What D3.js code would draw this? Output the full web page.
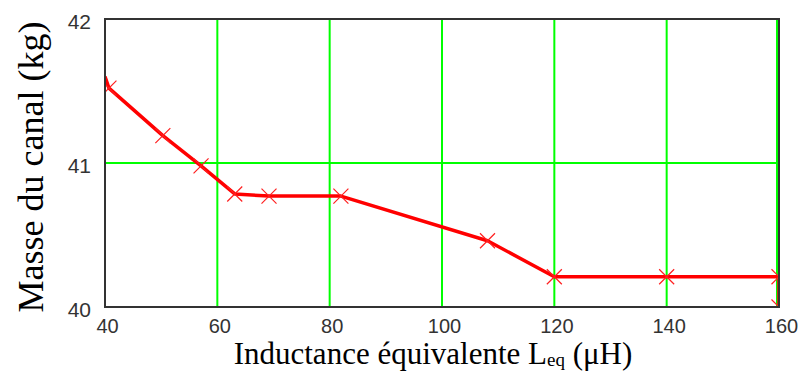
<!DOCTYPE html>
<html>
<head>
<meta charset="utf-8">
<script src="https://cdn.jsdelivr.net/npm/d3@7/dist/d3.min.js"></script>
<style>
  html, body { margin: 0; padding: 0; background: #ffffff; }
  svg { display: block; }
</style>
</head>
<body>
<svg id="chart" width="800" height="371"></svg>
<script>
// ---- data ----
const inductance = [40, 40.7, 50.3, 57.1, 63.1, 69.2, 82.0, 108.1, 120, 140, 160, 160];
const masse      = [41.60, 41.52, 41.19, 40.98, 40.785, 40.77, 40.77, 40.46, 40.21, 40.21, 40.21, 40.0];
const xTicks = [40, 60, 80, 100, 120, 140, 160];
const yTicks = [40, 41, 42];
const xLabel = "Inductance équivalente L";
const xLabelSub = "eq";
const xLabelTail = " (μH)";
const yLabel = "Masse du canal (kg)";

const points = inductance.map((d, i) => ({ x: d, y: masse[i] }));

const svg = d3.select("#chart");
const m = { left: 105, top: 19, right: 779, bottom: 307 };

const x = d3.scaleLinear().domain([40, 160]).range([m.left, m.right]);
const y = d3.scaleLinear().domain([40, 42]).range([m.bottom, m.top]);

svg.append("defs").append("clipPath").attr("id", "plotclip")
  .append("rect").attr("x", m.left).attr("y", m.top)
  .attr("width", m.right - m.left).attr("height", m.bottom - m.top);

// grid
const grid = svg.append("g");
grid.selectAll("line.v").data(xTicks.filter(d => d > 40)).join("line")
  .attr("x1", d => x(d) - (d === 160 ? 2 : 0)).attr("x2", d => x(d) - (d === 160 ? 2 : 0))
  .attr("y1", m.top).attr("y2", m.bottom)
  .attr("stroke", "#00ff00").attr("stroke-width", 2);
grid.selectAll("line.h").data(yTicks.filter(d => d > 40 && d < 42)).join("line")
  .attr("x1", m.left).attr("x2", m.right)
  .attr("y1", d => y(d)).attr("y2", d => y(d))
  .attr("stroke", "#00ff00").attr("stroke-width", 2);

// series
const plot = svg.append("g").attr("clip-path", "url(#plotclip)");
const line = d3.line().x(d => x(d.x)).y(d => y(d.y));
plot.append("path").datum(points).attr("d", line)
  .attr("fill", "none").attr("stroke", "#ff0000").attr("stroke-width", 3.5)
  .attr("stroke-linejoin", "round");
const s = 7.5;
const mk = plot.selectAll("g.mk").data(points.slice(1)).join("g")
  .attr("transform", d => `translate(${x(d.x)},${y(d.y)})`);
mk.append("path").attr("d", `M${-s},${-s}L${s},${s}M${-s},${s}L${s},${-s}`)
  .attr("stroke", "#ff2020").attr("stroke-width", 1.2).attr("fill", "none");

// frame
svg.append("rect").attr("x", m.left).attr("y", m.top)
  .attr("width", m.right - m.left).attr("height", m.bottom - m.top)
  .attr("fill", "none").attr("stroke", "#333333").attr("stroke-width", 2);

// axes (labels only)
const xAxis = svg.append("g").attr("transform", `translate(2,${m.bottom})`)
  .call(d3.axisBottom(x).tickValues(xTicks).tickFormat(d3.format("d")).tickSize(0).tickPadding(12));
xAxis.select(".domain").remove();
xAxis.selectAll("text").attr("font-family", "Liberation Sans, Arial, sans-serif")
  .attr("font-size", 20).attr("fill", "#333333").attr("dy", "0.72em");

const yAxis = svg.append("g").attr("transform", `translate(${m.left},0)`)
  .call(d3.axisLeft(y).tickValues(yTicks).tickFormat(d3.format("d")).tickSize(0).tickPadding(14));
yAxis.select(".domain").remove();
yAxis.selectAll("text").attr("font-family", "Liberation Sans, Arial, sans-serif")
  .attr("font-size", 21).attr("fill", "#333333").attr("dy", "0.45em");

// axis titles
const xt = svg.append("text").attr("x", 433).attr("y", 364)
  .attr("text-anchor", "middle")
  .attr("font-family", "Liberation Serif, Times New Roman, serif")
  .attr("font-size", 31).attr("fill", "#000");
xt.append("tspan").text(xLabel);
xt.append("tspan").attr("font-size", 19).attr("dy", 2).text(xLabelSub);
xt.append("tspan").attr("dy", -2).text(xLabelTail);

svg.append("text")
  .attr("transform", "translate(43,167) rotate(-90)")
  .attr("text-anchor", "middle")
  .attr("font-family", "Liberation Serif, Times New Roman, serif")
  .attr("font-size", 36).attr("fill", "#000")
  .text(yLabel);
</script>
</body>
</html>
